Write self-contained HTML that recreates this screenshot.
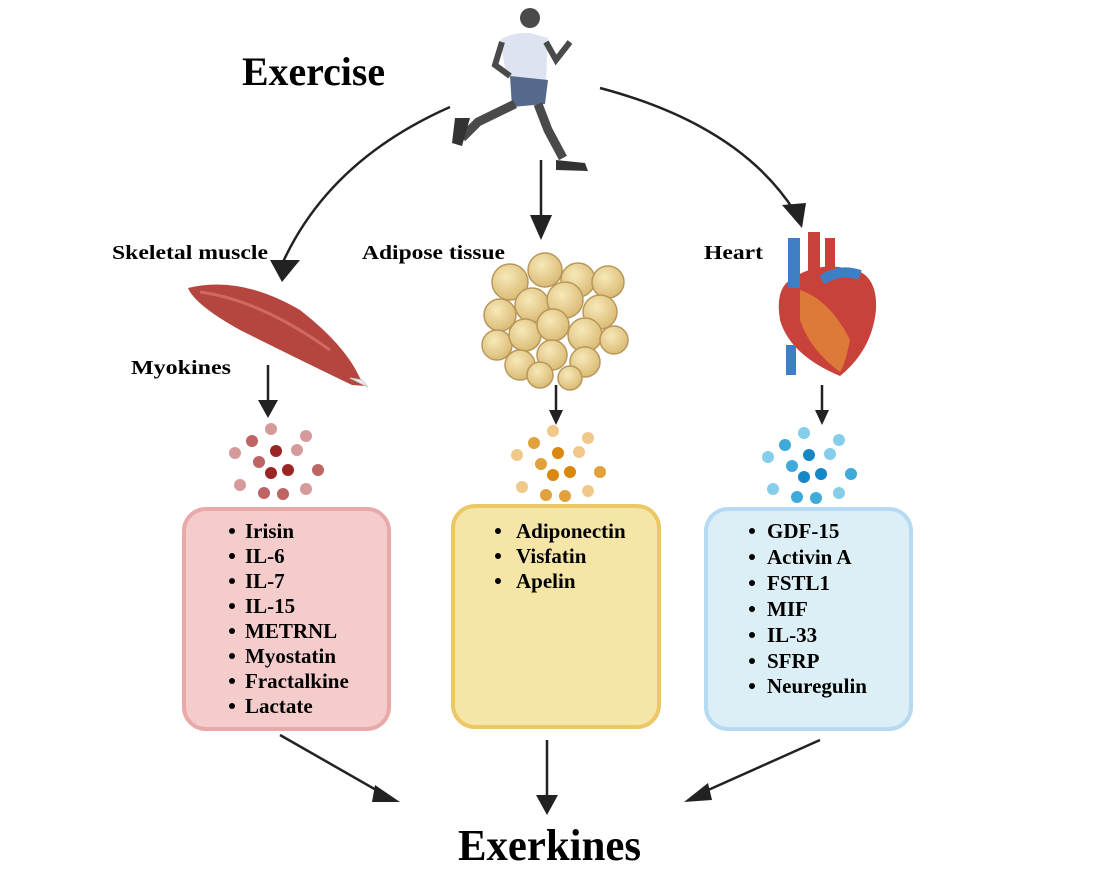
<!DOCTYPE html>
<html><head><meta charset="utf-8"><style>
body{margin:0;background:#fff;}
svg text{font-family:"Liberation Serif",serif;font-weight:bold;fill:#000;}
</style></head><body>
<svg width="1113" height="871" viewBox="0 0 1113 871" xmlns="http://www.w3.org/2000/svg">
<defs>
<radialGradient id="fat" cx="0.4" cy="0.35" r="0.7"><stop offset="0" stop-color="#f7e9b8"/><stop offset="1" stop-color="#d9b872"/></radialGradient>
</defs>
<text x="242" y="85" font-size="40" textLength="143" lengthAdjust="spacingAndGlyphs">Exercise</text>
<text x="458" y="860" font-size="44" textLength="183" lengthAdjust="spacingAndGlyphs">Exerkines</text>

<!-- runner -->
<g>
<circle cx="530" cy="18" r="10" fill="#4a4a4a"/>
<path d="M500,40 Q512,32 530,33 L548,38 L546,80 L507,78 Z" fill="#dde3f0"/>
<path d="M502,42 L495,65 L510,76" stroke="#4a4a4a" stroke-width="6" fill="none"/>
<path d="M546,42 L556,60 L570,42" stroke="#4a4a4a" stroke-width="6" fill="none"/>
<path d="M510,76 L548,80 L545,104 L512,107 Z" fill="#55698a"/>
<path d="M515,104 L478,122 L462,138" stroke="#4a4a4a" stroke-width="9" fill="none"/>
<path d="M455,118 L470,118 L462,146 L452,143 Z" fill="#333"/>
<path d="M538,104 L548,130 L563,158" stroke="#4a4a4a" stroke-width="9" fill="none"/>
<path d="M556,160 L585,163 L588,171 L556,170 Z" fill="#333"/>
</g>

<!-- arrows -->
<g stroke="#222" stroke-width="2.5" fill="none">
<path d="M450,107 Q330,160 283,262"/>
<path d="M600,88 Q740,125 795,212"/>
<path d="M541,160 L541,222"/>
<path d="M268,365 L268,402"/>
<path d="M556,385 L556,414"/>
<path d="M822,385 L822,414"/>
<path d="M280,735 L385,795"/>
<path d="M547,740 L547,800"/>
<path d="M820,740 L697,795"/>
</g>
<g fill="#222">
<path d="M270,260 L300,260 L282,282 Z"/>
<path d="M530,215 L552,215 L541,240 Z"/>
<path d="M782,205 L806,203 L802,228 Z"/>
<path d="M258,400 L278,400 L268,418 Z"/>
<path d="M549,410 L563,410 L556,425 Z"/>
<path d="M815,410 L829,410 L822,425 Z"/>
<path d="M375,785 L400,802 L372,802 Z"/>
<path d="M536,795 L558,795 L547,815 Z"/>
<path d="M708,783 L684,802 L712,800 Z"/>
</g>

<text x="112" y="259" font-size="20" textLength="156" lengthAdjust="spacingAndGlyphs">Skeletal muscle</text>
<text x="362" y="259" font-size="20" textLength="143" lengthAdjust="spacingAndGlyphs">Adipose tissue</text>
<text x="704" y="259" font-size="20" textLength="59" lengthAdjust="spacingAndGlyphs">Heart</text>
<text x="131" y="374" font-size="20" textLength="100" lengthAdjust="spacingAndGlyphs">Myokines</text>

<!-- muscle -->
<path d="M188,288 Q240,275 300,310 Q345,345 360,378 L366,386 L352,385 Q300,360 240,330 Q195,305 188,288 Z" fill="#b5463f"/>
<path d="M200,292 Q260,300 330,350" stroke="#d06a60" stroke-width="3" fill="none"/>
<path d="M350,378 L368,387 L362,380 Z" fill="#eee" stroke="#ccc"/>

<!-- fat -->
<g fill="url(#fat)" stroke="#b8975a" stroke-width="1.5">
<circle cx="510" cy="282" r="18"/><circle cx="545" cy="270" r="17"/><circle cx="578" cy="280" r="17"/><circle cx="608" cy="282" r="16"/>
<circle cx="500" cy="315" r="16"/><circle cx="532" cy="305" r="17"/><circle cx="565" cy="300" r="18"/><circle cx="600" cy="312" r="17"/>
<circle cx="497" cy="345" r="15"/><circle cx="525" cy="335" r="16"/><circle cx="553" cy="325" r="16"/><circle cx="585" cy="335" r="17"/><circle cx="614" cy="340" r="14"/>
<circle cx="520" cy="365" r="15"/><circle cx="552" cy="355" r="15"/><circle cx="585" cy="362" r="15"/>
<circle cx="540" cy="375" r="13"/><circle cx="570" cy="378" r="12"/>
</g>

<!-- heart -->
<g>
<path d="M790,280 Q775,290 780,320 Q790,355 840,376 Q872,350 876,310 Q878,270 845,268 Q815,262 790,280 Z" fill="#c9413b"/>
<path d="M800,290 Q830,300 850,340 Q845,365 840,372 Q810,350 800,320 Z" fill="#e2873a" opacity="0.8"/>
<rect x="788" y="238" width="12" height="50" fill="#3d7fc4"/>
<rect x="808" y="232" width="12" height="40" fill="#c9413b"/>
<rect x="825" y="238" width="10" height="30" fill="#c9413b"/>
<path d="M822,280 Q840,268 860,275" stroke="#3d7fc4" stroke-width="10" fill="none"/>
<rect x="786" y="345" width="10" height="30" fill="#3d7fc4"/>
</g>

<!-- dots -->
<g>
<circle cx="271" cy="429" r="6" fill="#d59a9a"/><circle cx="252" cy="441" r="6" fill="#bf6464"/><circle cx="306" cy="436" r="6" fill="#d59a9a"/>
<circle cx="235" cy="453" r="6" fill="#d59a9a"/><circle cx="276" cy="451" r="6" fill="#9b2525"/><circle cx="297" cy="450" r="6" fill="#d59a9a"/>
<circle cx="259" cy="462" r="6" fill="#bf6464"/><circle cx="271" cy="473" r="6" fill="#9b2525"/><circle cx="288" cy="470" r="6" fill="#9b2525"/>
<circle cx="318" cy="470" r="6" fill="#bf6464"/><circle cx="240" cy="485" r="6" fill="#d59a9a"/><circle cx="264" cy="493" r="6" fill="#bf6464"/>
<circle cx="283" cy="494" r="6" fill="#bf6464"/><circle cx="306" cy="489" r="6" fill="#d59a9a"/>
</g>
<g transform="translate(282,2)">
<circle cx="271" cy="429" r="6" fill="#f0c98a"/><circle cx="252" cy="441" r="6" fill="#e1a23c"/><circle cx="306" cy="436" r="6" fill="#f0c98a"/>
<circle cx="235" cy="453" r="6" fill="#f0c98a"/><circle cx="276" cy="451" r="6" fill="#d9870e"/><circle cx="297" cy="450" r="6" fill="#f0c98a"/>
<circle cx="259" cy="462" r="6" fill="#e1a23c"/><circle cx="271" cy="473" r="6" fill="#d9870e"/><circle cx="288" cy="470" r="6" fill="#d9870e"/>
<circle cx="318" cy="470" r="6" fill="#e1a23c"/><circle cx="240" cy="485" r="6" fill="#f0c98a"/><circle cx="264" cy="493" r="6" fill="#e1a23c"/>
<circle cx="283" cy="494" r="6" fill="#e1a23c"/><circle cx="306" cy="489" r="6" fill="#f0c98a"/>
</g>
<g transform="translate(533,4)">
<circle cx="271" cy="429" r="6" fill="#86cdea"/><circle cx="252" cy="441" r="6" fill="#3fa9d9"/><circle cx="306" cy="436" r="6" fill="#86cdea"/>
<circle cx="235" cy="453" r="6" fill="#86cdea"/><circle cx="276" cy="451" r="6" fill="#1587c4"/><circle cx="297" cy="450" r="6" fill="#86cdea"/>
<circle cx="259" cy="462" r="6" fill="#3fa9d9"/><circle cx="271" cy="473" r="6" fill="#1587c4"/><circle cx="288" cy="470" r="6" fill="#1587c4"/>
<circle cx="318" cy="470" r="6" fill="#3fa9d9"/><circle cx="240" cy="485" r="6" fill="#86cdea"/><circle cx="264" cy="493" r="6" fill="#3fa9d9"/>
<circle cx="283" cy="494" r="6" fill="#3fa9d9"/><circle cx="306" cy="489" r="6" fill="#86cdea"/>
</g>

<!-- boxes -->
<rect x="184" y="509" width="205" height="220" rx="22" fill="#f4cccc" stroke="#eaa9a9" stroke-width="4"/>
<rect x="453" y="506" width="206" height="221" rx="22" fill="#f5e6a8" stroke="#ecc766" stroke-width="4"/>
<rect x="706" y="509" width="205" height="220" rx="22" fill="#ddeff6" stroke="#b6daf2" stroke-width="4"/>

<g font-size="21">
<text x="245" y="538">Irisin</text><text x="245" y="563">IL-6</text><text x="245" y="588">IL-7</text><text x="245" y="613">IL-15</text>
<text x="245" y="638">METRNL</text><text x="245" y="663">Myostatin</text><text x="245" y="688">Fractalkine</text><text x="245" y="713">Lactate</text>
<text x="516" y="538">Adiponectin</text><text x="516" y="563">Visfatin</text><text x="516" y="588">Apelin</text>
<text x="767" y="538">GDF-15</text><text x="767" y="564">Activin A</text><text x="767" y="590">FSTL1</text><text x="767" y="616">MIF</text>
<text x="767" y="642">IL-33</text><text x="767" y="668">SFRP</text><text x="767" y="693">Neuregulin</text>
</g>
<g fill="#000">
<circle cx="232" cy="531" r="3"/><circle cx="232" cy="556" r="3"/><circle cx="232" cy="581" r="3"/><circle cx="232" cy="606" r="3"/>
<circle cx="232" cy="631" r="3"/><circle cx="232" cy="656" r="3"/><circle cx="232" cy="681" r="3"/><circle cx="232" cy="706" r="3"/>
<circle cx="498" cy="531" r="3"/><circle cx="498" cy="556" r="3"/><circle cx="498" cy="581" r="3"/>
<circle cx="752" cy="531" r="3"/><circle cx="752" cy="557" r="3"/><circle cx="752" cy="583" r="3"/><circle cx="752" cy="609" r="3"/>
<circle cx="752" cy="635" r="3"/><circle cx="752" cy="661" r="3"/><circle cx="752" cy="686" r="3"/>
</g>
</svg>
</body></html>
